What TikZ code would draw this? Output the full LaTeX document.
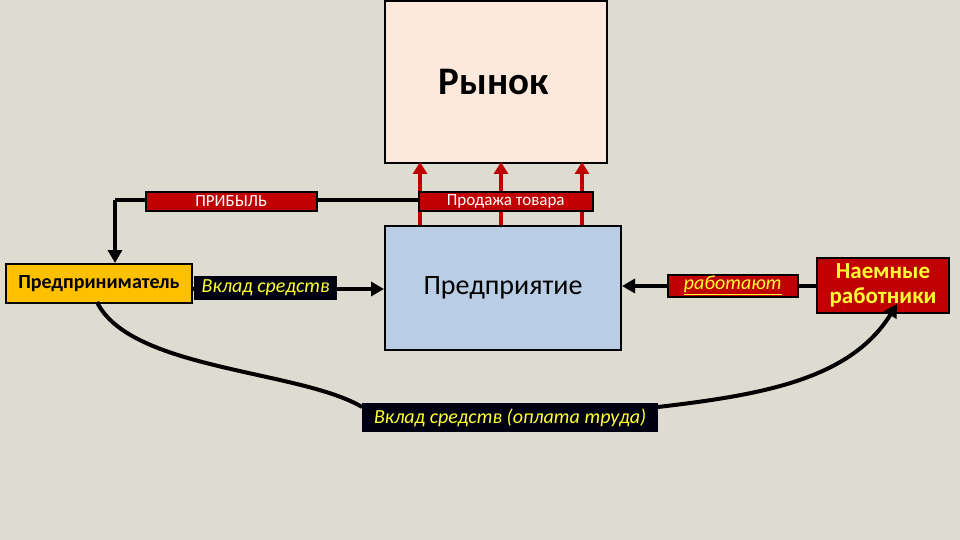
\documentclass[tikz,border=0pt]{standalone}
\usepackage{fontspec}
\setmainfont{Carlito}
\usetikzlibrary{arrows.meta}
\definecolor{bg}{HTML}{DEDBD1}
\definecolor{peach}{HTML}{FCE9DC}
\definecolor{lblue}{HTML}{B9CDE5}
\definecolor{dred}{HTML}{C00000}
\definecolor{gold}{HTML}{FFC000}
\definecolor{yel}{HTML}{FFFF33}
\definecolor{navy}{HTML}{000010}
\tikzset{
  bigbox/.style={draw=black, line width=2pt, inner sep=0pt, anchor=north west},
  redlbl/.style={draw=black, line width=1.5pt, fill=dred, text=white, inner sep=0pt, anchor=north west, font=\fontsize{17}{19}\selectfont},
  blklbl/.style={fill=navy, text=yel, inner sep=0pt, anchor=north west, font=\fontsize{20}{23}\selectfont\itshape},
  conn/.style={draw=black, line width=4pt, -{Triangle[length=13pt,width=14pt]}},
  plain/.style={draw=black, line width=4pt},
  redarr/.style={draw=dred, line width=4pt, -{Triangle[length=12pt,width=14pt]}}
}
\begin{document}
\begin{tikzpicture}[x=1pt,y=-1pt]
\fill[bg] (0,0) rectangle (960,540);
\useasboundingbox (0,0) rectangle (960,540);
% boxes
\node[bigbox, fill=peach, minimum width=222pt, minimum height=162pt] (market) at (384,0) {};
\node[font=\fontsize{39}{42}\selectfont\bfseries] (mtext) at (494,82) {Рынок};
\node[bigbox, fill=lblue, minimum width=236pt, minimum height=124pt, font=\fontsize{28}{30}\selectfont] (firm) at (384,225) {Предприятие};
\node[bigbox, fill=gold, minimum width=186pt, minimum height=39pt, font=\fontsize{20}{22}\selectfont\bfseries] (ent) at (5,263) {Предприниматель};
\node[bigbox, fill=dred, text=yel, minimum width=132pt, minimum height=55pt, align=center, font=\fontsize{23}{25}\selectfont\bfseries] (work) at (816,257) {Наемные\\работники};
% red arrows up
\coordinate (a1) at (420,225); \coordinate (b1) at (420,162);
\coordinate (a2) at (501,225); \coordinate (b2) at (501,162);
\coordinate (a3) at (582,225); \coordinate (b3) at (582,162);
\draw[redarr] (a1) -- (b1);
\draw[redarr] (a2) -- (b2);
\draw[redarr] (a3) -- (b3);
% profit line
\coordinate (p0) at (420,200);
\coordinate (p1) at (115,200);
\coordinate (p2) at (115,263);
\draw[plain] (p0) -- (p1);
\draw[conn] (p1) -- (p2);
\node[redlbl, minimum width=171pt, minimum height=19pt] (profit) at (145,191) {ПРИБЫЛЬ};
\node[redlbl, minimum width=174pt, minimum height=19pt] (sale) at (418,191) {Продажа товара};
% contribution arrow
\draw[conn] (ent.east |- 0,289) -- (firm.west |- 0,289);
\node[blklbl, minimum width=143pt, minimum height=24pt] (contrib) at (194,276) {Вклад средств};
% work arrow
\draw[conn] (work.west |- 0,286) -- (firm.east |- 0,286);
\node[redlbl, text=yel, minimum width=130pt, minimum height=22pt, font=\fontsize{20}{22}\selectfont\itshape] (wlbl) at (667,274) {\underline{работают}};
% wage curve
\node[blklbl, minimum width=296pt, minimum height=29pt] (wage) at (362,403) {Вклад средств (оплата труда)};
\coordinate (c0) at (97,302);
\coordinate (c1) at (362,407);
\coordinate (c2) at (658,407);
\coordinate (c3) at (897,304);
\draw[plain, line join=round] (c0) .. controls (130,370) and (300,370) .. (c1);
\draw[conn] (c2) .. controls (760,395) and (850,380) .. (c3);
\end{tikzpicture}
\end{document}
